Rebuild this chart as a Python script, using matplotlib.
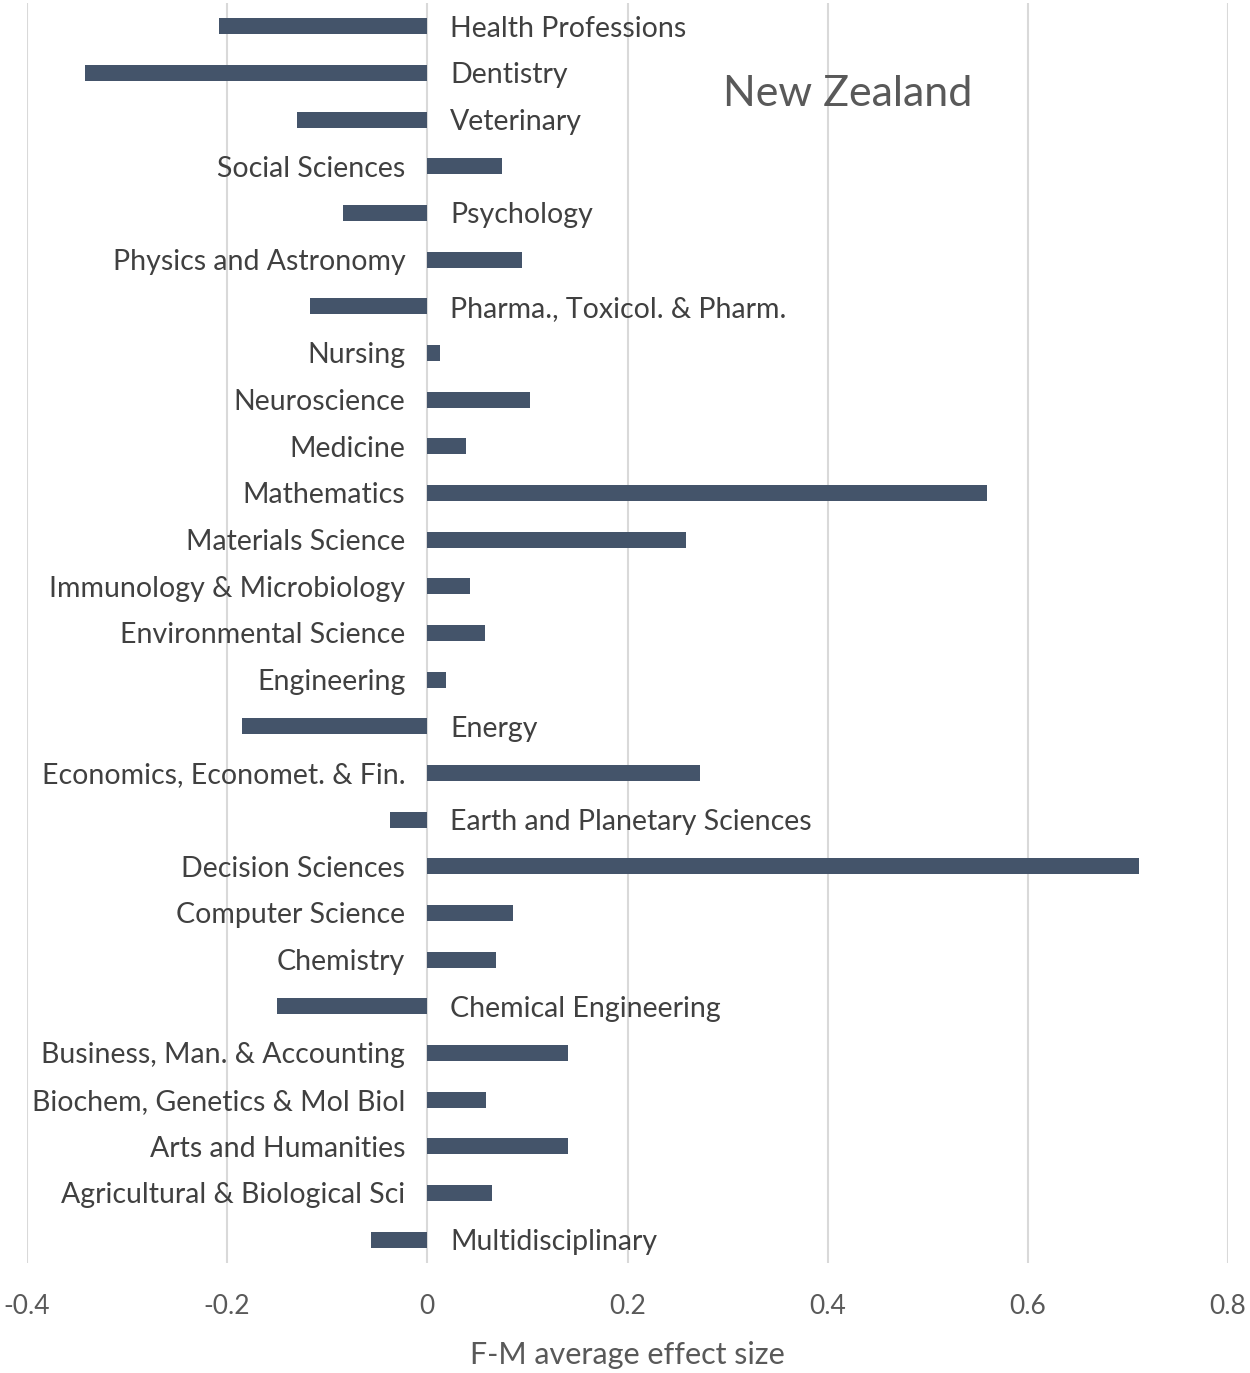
import matplotlib
matplotlib.use("Agg")
import matplotlib.pyplot as plt

categories = [
    "Health Professions", "Dentistry", "Veterinary", "Social Sciences", "Psychology",
    "Physics and Astronomy", "Pharma., Toxicol. & Pharm.", "Nursing", "Neuroscience",
    "Medicine", "Mathematics", "Materials Science", "Immunology & Microbiology",
    "Environmental Science", "Engineering", "Energy", "Economics, Economet. & Fin.",
    "Earth and Planetary Sciences", "Decision Sciences", "Computer Science", "Chemistry",
    "Chemical Engineering", "Business, Man. & Accounting", "Biochem, Genetics & Mol Biol",
    "Arts and Humanities", "Agricultural & Biological Sci", "Multidisciplinary",
]
values = [
    -0.208, -0.342, -0.130, 0.075, -0.084,
    0.095, -0.117, 0.013, 0.103,
    0.039, 0.559, 0.258, 0.043,
    0.058, 0.019, -0.185, 0.272,
    -0.037, 0.711, 0.086, 0.069,
    -0.150, 0.141, 0.059,
    0.141, 0.065, -0.056,
]
xticks = [-0.4, -0.2, 0, 0.2, 0.4, 0.6, 0.8]
xtick_labels = ["-0.4", "-0.2", "0", "0.2", "0.4", "0.6", "0.8"]
title = "New Zealand"
xlabel = "F-M average effect size"

plt.rcParams['font.family'] = ['Lato', 'DejaVu Sans']

fig = plt.figure(figsize=(12.5, 13.73), dpi=100)
ax = fig.add_axes([27/1250, 1 - 1263/1373, (1228-27)/1250, (1263-3)/1373])

ypos = list(range(len(categories)))
ax.barh(ypos, values, height=0.34, color="#44546A", zorder=3)
ax.set_ylim(len(categories) - 0.5, -0.5)
ax.set_xlim(-0.4, 0.8)
ax.set_xticks(xticks)
ax.set_xticklabels(xtick_labels, fontsize=19, color="#595959")
ax.tick_params(axis='x', length=0, pad=22)
ax.set_yticks([])
ax.grid(axis='x', color="#D9D9D9", linewidth=1.5, zorder=0)
for s in ax.spines.values():
    s.set_visible(False)

off = 0.022
for y, (c, v) in enumerate(zip(categories, values)):
    if v >= 0:
        ax.text(-off, y + 0.05, c, ha='right', va='center', fontsize=20.5, color="#404040")
    else:
        ax.text(off + 0.001, y + 0.05, c, ha='left', va='center', fontsize=20.5, color="#404040")

ax.text(0.42, 1.45, title, ha='center', va='center', fontsize=31, color="#595959")
ax.set_xlabel(xlabel, fontsize=22, color="#595959", labelpad=16)

fig.savefig("out.png", dpi=100, facecolor="white")
